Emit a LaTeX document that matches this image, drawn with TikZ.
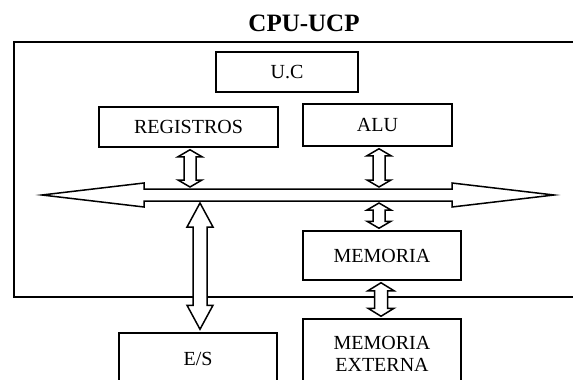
\documentclass[tikz,border=0pt]{standalone}
\usepackage{fontspec}
\setmainfont{Liberation Serif}
\usetikzlibrary{calc}
% #1 top tip, #2 bottom tip, #3 head half width, #4 shaft half width, #5 head length
\newcommand\blockarrow[5]{%
  \draw[blk] let \p1=#1, \p2=#2 in
    (\x1,\y1) -- (\x1+#3,\y1-#5) -- (\x1+#4,\y1-#5) -- (\x1+#4,\y2+#5) -- (\x1+#3,\y2+#5)
    -- (\x1,\y2) -- (\x1-#3,\y2+#5) -- (\x1-#4,\y2+#5) -- (\x1-#4,\y1-#5) -- (\x1-#3,\y1-#5) -- cycle;}
\begin{document}
\begin{tikzpicture}[x=1pt,y=-1pt,
  box/.style={draw, line width=1.5pt, inner sep=0pt, align=center,
    font=\fontsize{20}{22}\selectfont},
  blk/.style={draw, line width=1.5pt, fill=white, line join=miter}]
\useasboundingbox (0,0) rectangle (573,380);
\node[font=\fontsize{25}{30}\selectfont\bfseries, inner sep=0pt] (title) at (304,23.5) {CPU-UCP};
\draw[line width=1.5pt] (14,42) rectangle (640,297);
\node[box,minimum width=142pt,minimum height=40pt] (uc) at (287,72) {U.C};
\node[box,minimum width=179pt,minimum height=40pt] (reg) at (188.5,127) {REGISTROS};
\node[box,minimum width=149pt,minimum height=42pt] (alu) at (377.5,125) {ALU};
\node[box,minimum width=158pt,minimum height=49pt] (mem) at (382,255.5) {MEMORIA};
\node[box,minimum width=158pt,minimum height=70pt] (ext) at (382,354) {MEMORIA\\EXTERNA};
\node[box,minimum width=158pt,minimum height=52pt] (es) at (198,359) {E/S};
\coordinate (busL) at (42,195);
\coordinate (busR) at (554,195);
\coordinate (busT) at (300,189);
\coordinate (busB) at (300,201);
\draw[blk] (busL) -- ++(102,-12) -- ++(0,6) -- ($(busR)+(-102,-6)$) -- ++(0,-6) -- (busR)
  -- ++(-102,12) -- ++(0,-6) -- ($(busL)+(102,6)$) -- ++(0,6) -- cycle;
\blockarrow{($(reg.south)+(1.5pt,-2pt)$)}{($(reg.south|-busT)+(1.5pt,2pt)$)}{12pt}{6pt}{7pt}
\blockarrow{($(alu.south)+(1.5pt,-2pt)$)}{($(alu.south|-busT)+(1.5pt,2pt)$)}{12pt}{6pt}{7pt}
\blockarrow{($(mem.north|-busB)+(-3pt,-2pt)$)}{($(mem.north)+(-3pt,2pt)$)}{12pt}{6pt}{7pt}
\blockarrow{($(mem.south)+(-1pt,-2pt)$)}{($(ext.north)+(-1pt,2pt)$)}{13pt}{6.5pt}{8pt}
\blockarrow{($(es.north|-busB)+(2pt,-2pt)$)}{($(es.north)+(2pt,3pt)$)}{13pt}{7pt}{24pt}
\end{tikzpicture}
\end{document}
